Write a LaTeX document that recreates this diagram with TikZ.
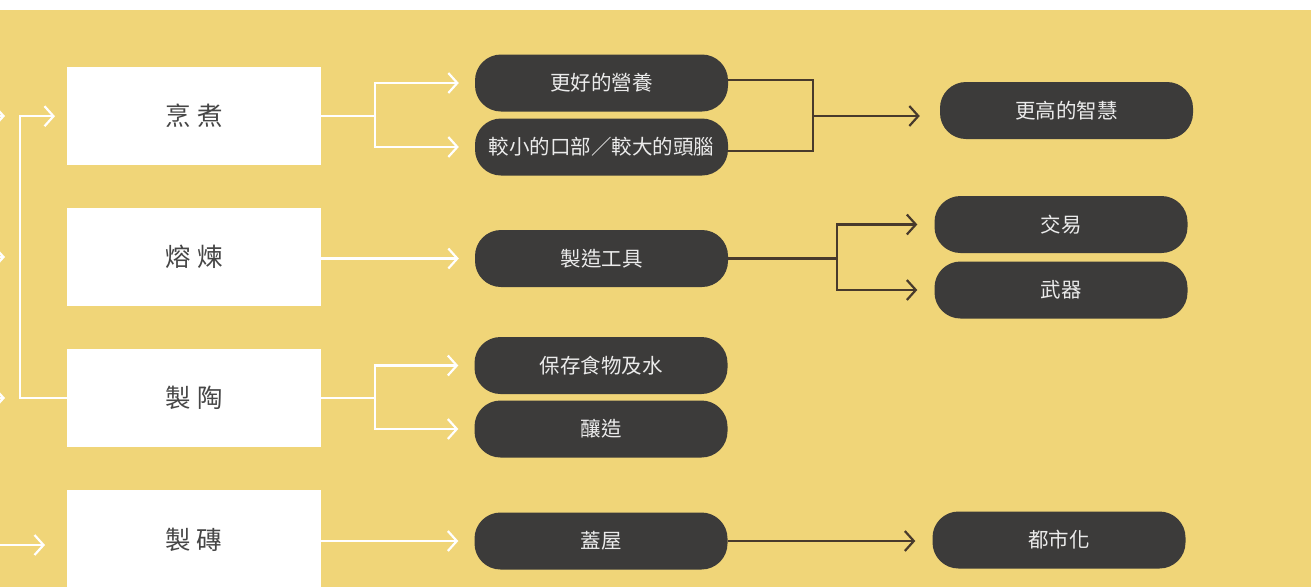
\documentclass[tikz,border=0pt]{standalone}
\usepackage{fontspec}
\newfontfamily\cjk{Noto Sans CJK TC}
\usetikzlibrary{arrows.meta}
\definecolor{bgyellow}{RGB}{240,213,120}
\definecolor{pillgray}{RGB}{60,59,58}
\definecolor{boxtext}{RGB}{70,70,70}
\definecolor{darkline}{RGB}{72,58,44}
\tikzset{
  whitebox/.style={fill=white, draw=none, minimum width=254pt, minimum height=98pt, inner sep=0pt, anchor=north west, font=\cjk\fontsize{25.5}{28}\selectfont, text=boxtext},
  pill/.style={fill=pillgray, draw=none, rounded corners=26pt, minimum width=253pt, minimum height=57pt, inner sep=0pt, font=\cjk\fontsize{20.5}{24}\selectfont, text=white!92!black},
  wline/.style={draw=white, line width=2.4pt},
  dline/.style={draw=darkline, line width=2.2pt},
  tip/.style={-{Straight Barb[length=9pt,width=20pt,line width=2.2pt]}},
}
\begin{document}
\begin{tikzpicture}[x=1pt,y=-1pt]
\useasboundingbox (0,0) rectangle (1311,587);
\clip (0,0) rectangle (1311,587);
\fill[bgyellow] (0,0) rectangle (1311,587);
\fill[white] (0,0) rectangle (1311,10);

% white boxes
\node[whitebox] (b1) at (67,67) {烹 煮};
\node[whitebox] (b2) at (67,208) {熔 煉};
\node[whitebox] (b3) at (67,349) {製 陶};
\node[whitebox, minimum height=110pt] (b4) at (67,490) {};
\node[font=\cjk\fontsize{25.5}{28}\selectfont, text=boxtext] (b4t) at (194,540) {製 磚};

% pills
\node[pill] (p1) at (601.5,83) {更好的營養};
\node[pill] (p2) at (601.5,147) {較小的口部／較大的頭腦};
\node[pill] (q1) at (1066.5,110.5) {更高的智慧};
\node[pill] (p3) at (601.5,258.5) {製造工具};
\node[pill] (q2) at (1061,224.5) {交易};
\node[pill] (q3) at (1061,290) {武器};
\node[pill] (p4) at (601,365.5) {保存食物及水};
\node[pill] (p5) at (601,429) {釀造};
\node[pill] (p6) at (601,541) {蓋屋};
\node[pill] (q4) at (1059,540) {都市化};

% junction coordinates
\coordinate (j1) at (375,0);
\coordinate (jl) at (20,0);
\coordinate (j2) at (813,0);
\coordinate (j3) at (837,0);
\coordinate (a1) at (p1.east |- 0,80);
\coordinate (a2) at (p2.east |- 0,151);
\coordinate (am) at (813,116);

% white connectors
\draw[wline,tip,shorten >=16pt] (b1.east) -- (b1.east -| j1) |- (p1.west);
\draw[wline,tip,shorten >=16pt] (b1.east -| j1) |- (p2.west);
\draw[wline,tip,shorten >=16pt] (b2.east |- p3.west) -- (p3.west);
\draw[wline,tip,shorten >=16pt] (b3.east) -- (b3.east -| j1) |- (p4.west);
\draw[wline,tip,shorten >=16pt] (b3.east -| j1) |- (p5.west);
\draw[wline,tip,shorten >=16pt] (b4.east |- p6.west) -- (p6.west);

% left loop connector
\draw[wline,tip,shorten >=12pt] (b3.west) -- (b3.west -| jl) |- (b1.west);

% cut-off arrows at left edge
\coordinate (l1) at (-40,116);
\coordinate (l1e) at (5,116);
\coordinate (l2) at (-40,257);
\coordinate (l2e) at (5,257);
\coordinate (l3) at (-40,398);
\coordinate (l3e) at (5,398);
\coordinate (l4) at (-10,545);
\draw[wline,tip] (l1) -- (l1e);
\draw[wline,tip] (l2) -- (l2e);
\draw[wline,tip] (l3) -- (l3e);
\draw[wline,tip,shorten >=22pt] (l4) -- (b4.west |- l4);

% dark connectors
\draw[dline] (a1) -- (a1 -| j2) -- (a2 -| j2) -- (a2);
\draw[dline,tip,shorten >=20pt] (am) -- (am -| q1.west);
\draw[dline] (p3.east) -- (p3.east -| j3);
\draw[dline,tip,shorten >=17pt] (p3.east -| j3) |- (q2.west);
\draw[dline,tip,shorten >=17pt] (p3.east -| j3) |- (q3.west);
\draw[dline,tip,shorten >=17pt] (p6.east) -- (p6.east -| q4.west);
\end{tikzpicture}
\end{document}
